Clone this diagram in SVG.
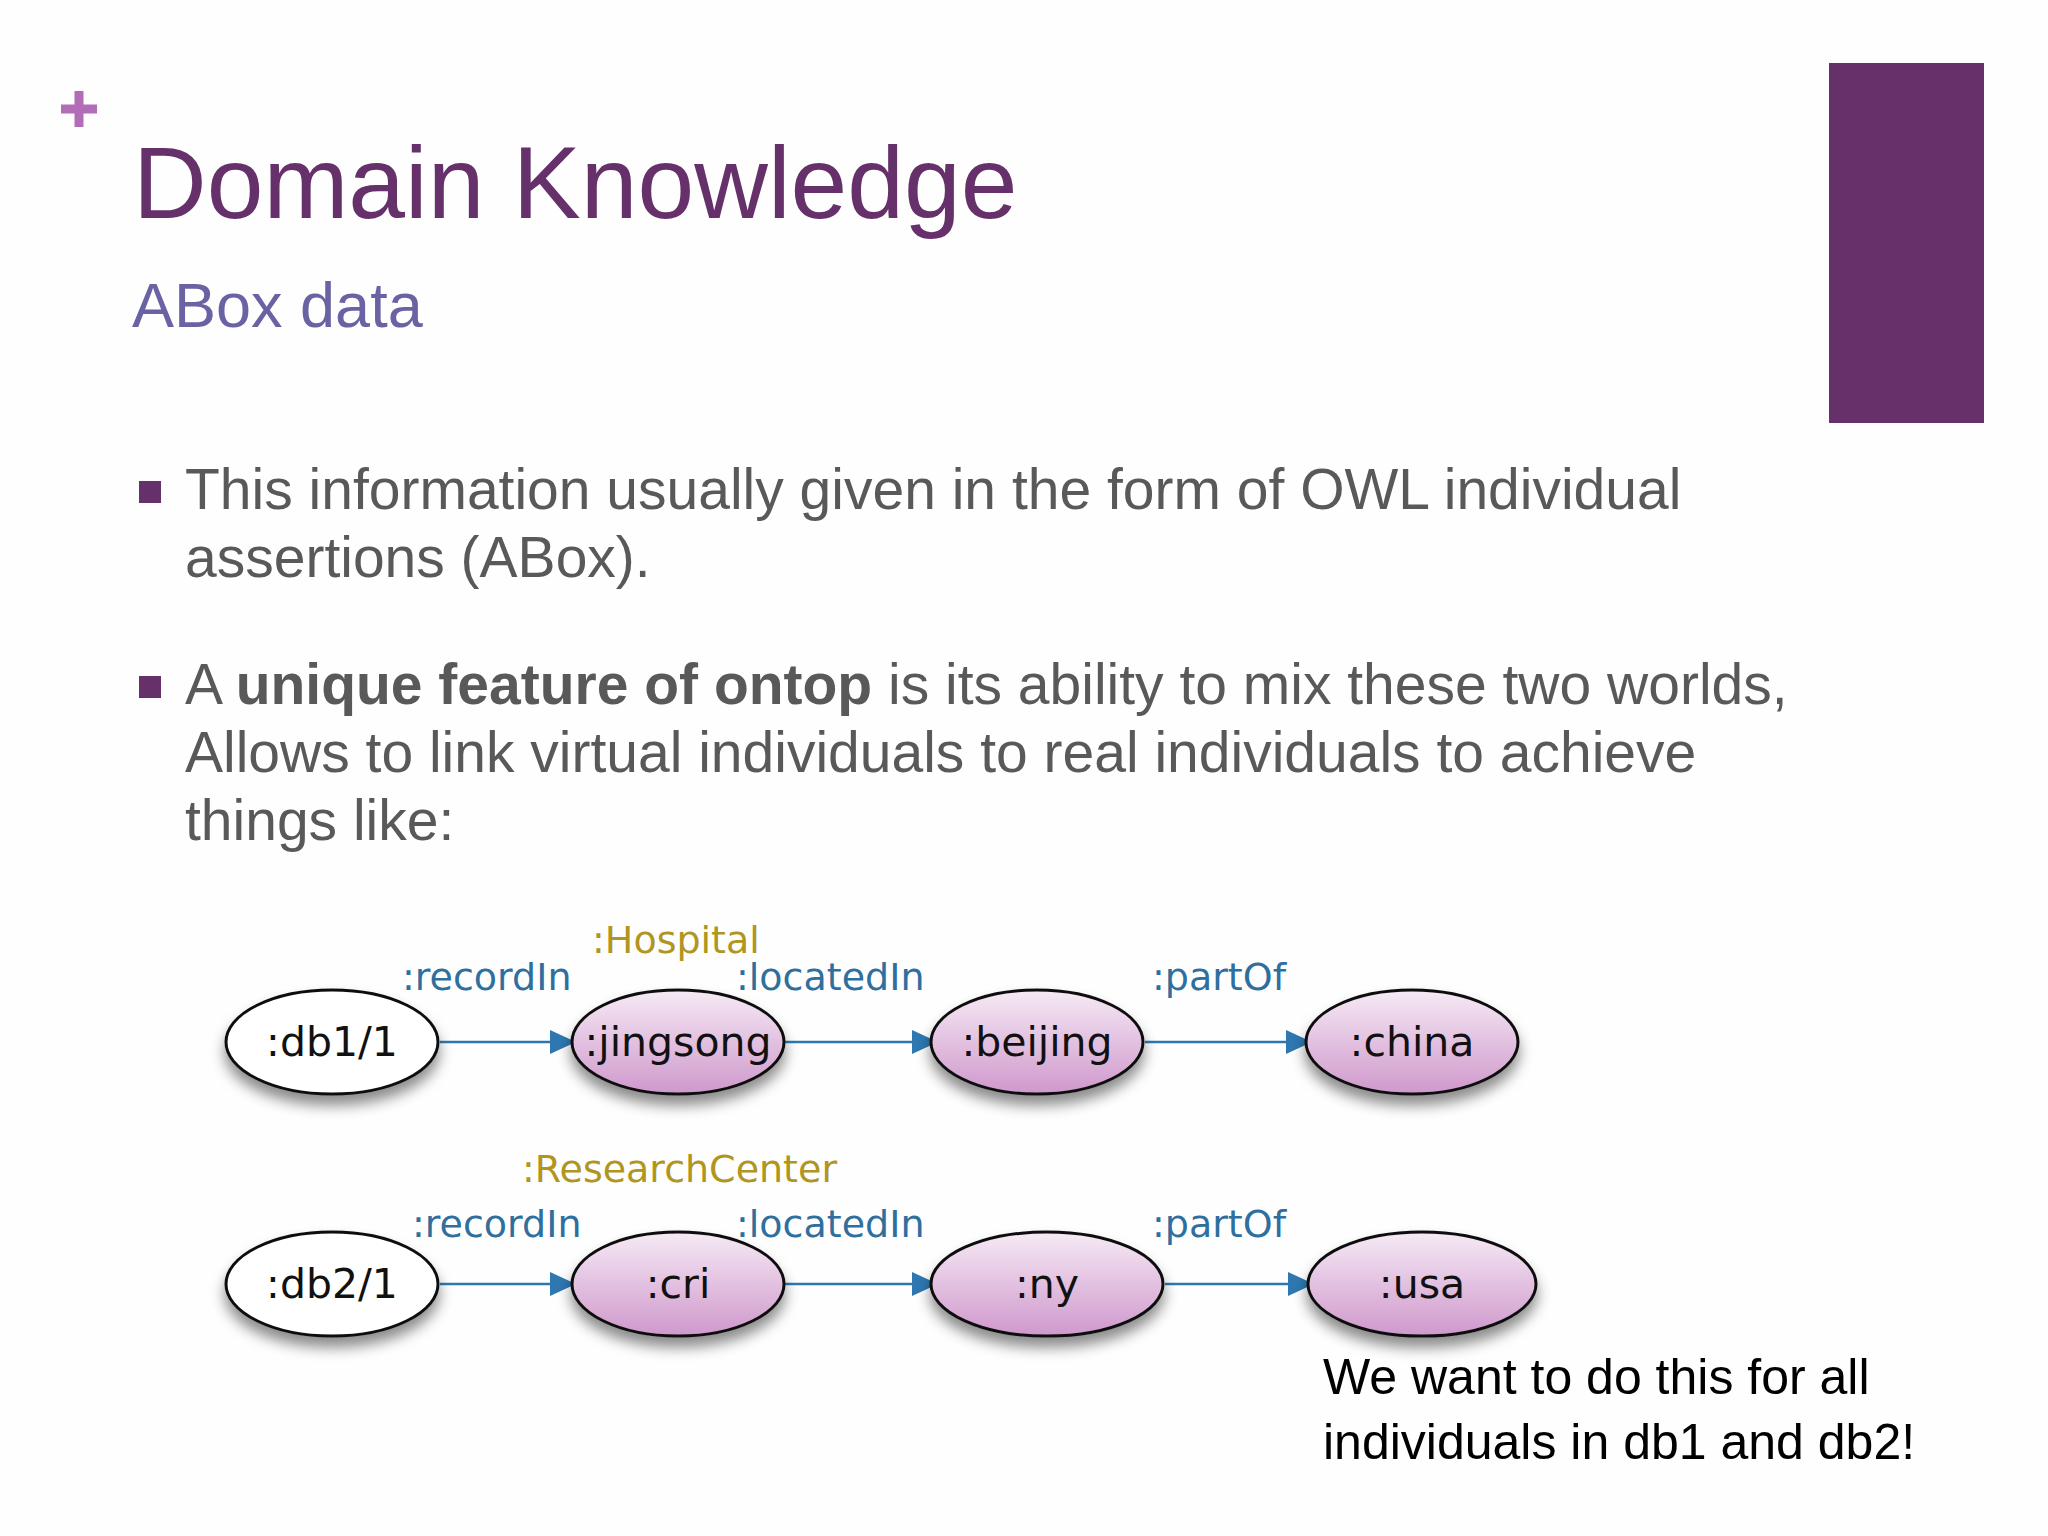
<svg xmlns="http://www.w3.org/2000/svg" width="2048" height="1536" viewBox="0 0 2048 1536">
<defs>
<linearGradient id="pk" x1="0" y1="0" x2="0" y2="1"><stop offset="0" stop-color="#f6eaf5"/><stop offset="1" stop-color="#cf98cc"/></linearGradient>
<filter id="sh" x="-20%" y="-20%" width="140%" height="160%"><feDropShadow dx="0" dy="10" stdDeviation="7" flood-color="#000" flood-opacity="0.45"/></filter>
<marker id="ar" markerWidth="26" markerHeight="24" refX="26" refY="12" orient="auto" markerUnits="userSpaceOnUse" viewBox="0 0 26 24"><path d="M0,0 L26,12 L0,24 z" fill="#2e77b0"/></marker>
<style>
.b{font-family:"Liberation Sans",Arial,sans-serif;fill:#595959;font-size:57px}
.n{font-family:"DejaVu Sans",sans-serif;font-size:41px;fill:#111;text-anchor:middle}
.e{font-family:"DejaVu Sans",sans-serif;font-size:38px;fill:#2e6f9e}
.t{font-family:"DejaVu Sans",sans-serif;font-size:38px;fill:#b0951f}
.el{stroke:#111;stroke-width:3;filter:url(#sh)}
.c line{stroke:#2e77b0;stroke-width:2.5;marker-end:url(#ar)}
</style>
</defs>
<rect width="2048" height="1536" fill="#fefefe"/>
<path d="M79,91 V127 M61,109 H97" stroke="#b36cb8" stroke-width="9"/>
<rect x="1829" y="63" width="155" height="360" fill="#66306a"/>
<text x="133" y="218" font-family="Liberation Sans,Arial,sans-serif" font-size="102" fill="#66306a">Domain Knowledge</text>
<text x="132" y="327" font-family="Liberation Sans,Arial,sans-serif" font-size="63" fill="#6a63a3">ABox data</text>
<rect x="139" y="481" width="22" height="22" fill="#66306a"/>
<text class="b" x="185" y="509">This information usually given in the form of OWL individual</text>
<text class="b" x="185" y="577">assertions (ABox).</text>
<rect x="139" y="676" width="22" height="22" fill="#66306a"/>
<text class="b" x="185" y="704">A <tspan font-weight="bold">unique feature of ontop</tspan> is its ability to mix these two worlds,</text>
<text class="b" x="185" y="772">Allows to link virtual individuals to real individuals to achieve</text>
<text class="b" x="185" y="840">things like:</text>
<g class="c" id="connectors">
<line x1="440" y1="1042" x2="576" y2="1042"/><line x1="784" y1="1042" x2="938" y2="1042"/><line x1="1145" y1="1042" x2="1312" y2="1042"/>
<line x1="440" y1="1284" x2="576" y2="1284"/><line x1="784" y1="1284" x2="938" y2="1284"/><line x1="1165" y1="1284" x2="1314" y2="1284"/>
</g>
<text class="e" x="402" y="990">:recordIn</text><text class="t" x="592" y="953">:Hospital</text><text class="e" x="736" y="990">:locatedIn</text><text class="e" x="1152" y="990">:partOf</text>
<text class="e" x="412" y="1237">:recordIn</text><text class="t" x="522" y="1182">:ResearchCenter</text><text class="e" x="736" y="1237">:locatedIn</text><text class="e" x="1152" y="1237">:partOf</text>
<g id="db1"><ellipse class="el" cx="332" cy="1042" rx="106" ry="52" fill="#fff"/><text class="n" x="332" y="1056">:db1/1</text></g>
<g id="jingsong"><ellipse class="el" cx="678" cy="1042" rx="106" ry="52" fill="url(#pk)"/><text class="n" x="678" y="1056">:jingsong</text></g>
<g id="beijing"><ellipse class="el" cx="1037" cy="1042" rx="106" ry="52" fill="url(#pk)"/><text class="n" x="1037" y="1056">:beijing</text></g>
<g id="china"><ellipse class="el" cx="1412" cy="1042" rx="106" ry="52" fill="url(#pk)"/><text class="n" x="1412" y="1056">:china</text></g>
<g id="db2"><ellipse class="el" cx="332" cy="1284" rx="106" ry="52" fill="#fff"/><text class="n" x="332" y="1298">:db2/1</text></g>
<g id="cri"><ellipse class="el" cx="678" cy="1284" rx="106" ry="52" fill="url(#pk)"/><text class="n" x="678" y="1298">:cri</text></g>
<g id="ny"><ellipse class="el" cx="1047" cy="1284" rx="116" ry="52" fill="url(#pk)"/><text class="n" x="1047" y="1298">:ny</text></g>
<g id="usa"><ellipse class="el" cx="1422" cy="1284" rx="114" ry="52" fill="url(#pk)"/><text class="n" x="1422" y="1298">:usa</text></g>
<text x="1323" y="1394" font-family="Liberation Sans,Arial,sans-serif" font-size="50" fill="#000">We want to do this for all</text>
<text x="1323" y="1459" font-family="Liberation Sans,Arial,sans-serif" font-size="50" fill="#000">individuals in db1 and db2!</text>
</svg>
